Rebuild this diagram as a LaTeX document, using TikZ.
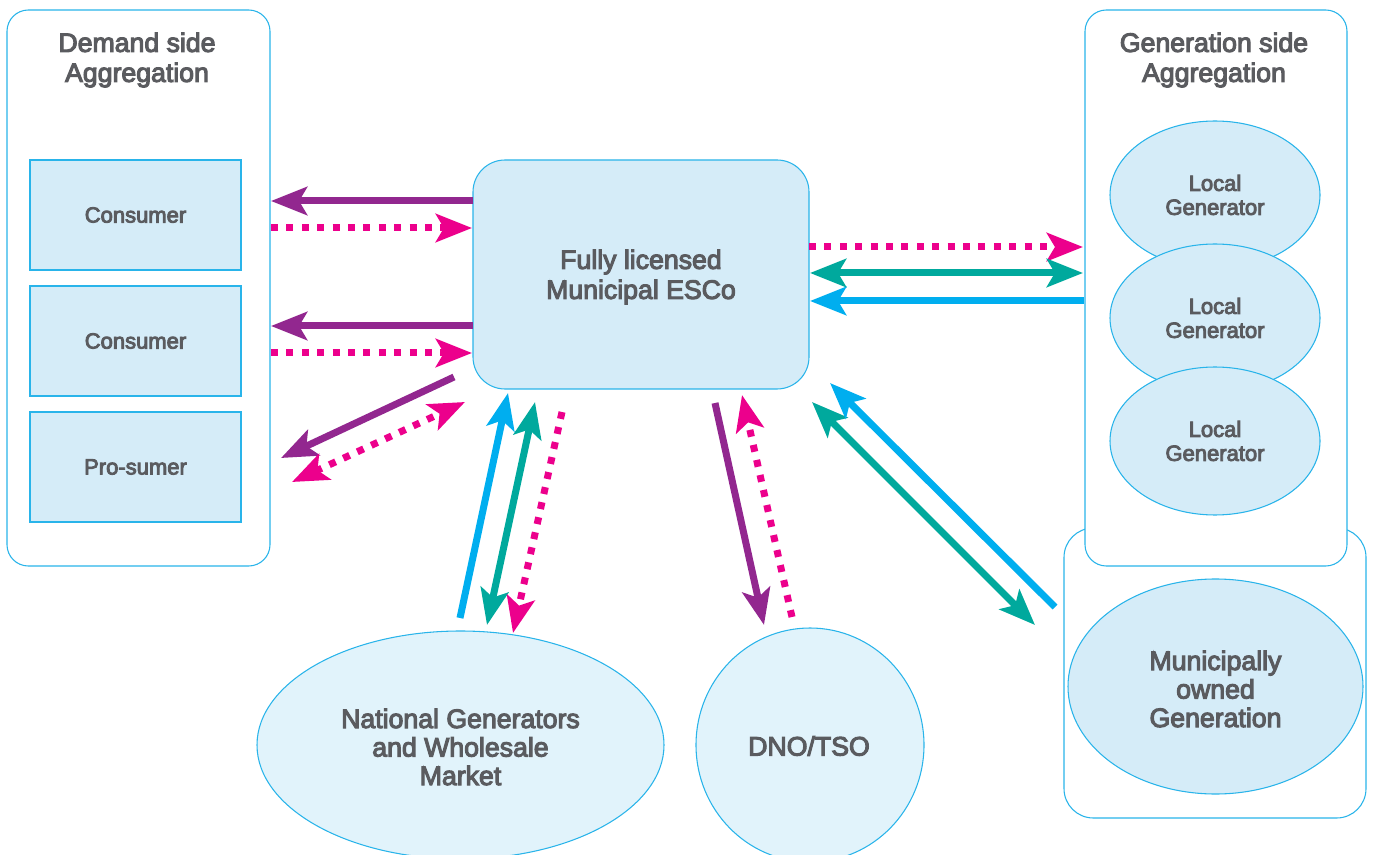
\documentclass[tikz,border=0pt]{standalone}
\usepackage{fontspec}
\setmainfont{Liberation Sans}[FakeBold=4]
\usetikzlibrary{arrows.meta,shapes.geometric}
\definecolor{cyanline}{HTML}{29B4EA}
\definecolor{boxfill}{HTML}{D5ECF8}
\definecolor{ngfill}{HTML}{E1F3FB}
\definecolor{txt}{HTML}{5A5B5F}
\definecolor{purp}{HTML}{92278F}
\definecolor{pinkc}{HTML}{EC008C}
\definecolor{bluc}{HTML}{00AEEF}
\definecolor{tealc}{HTML}{00A99D}
\begin{document}
\begin{tikzpicture}[x=0.75pt,y=-0.75pt,
  panel/.style={draw=cyanline,line width=0.8pt,fill=white,inner sep=0,rounded corners=16pt},
  cbox/.style={draw=cyanline,line width=0.8pt,fill=boxfill,inner sep=0,minimum width=158.25pt,minimum height=82.5pt,font=\fontsize{16.5}{18}\selectfont,text=txt},
  gen/.style={ellipse,draw=cyanline,line width=0.8pt,fill=boxfill,inner sep=0,minimum width=157.5pt,minimum height=111pt,font=\fontsize{16.5}{18}\selectfont,text=txt,align=center},
  big/.style={font=\fontsize{20}{22.5}\selectfont,text=txt,align=center},
  bigtxt/.style={font=\fontsize{20}{21.4}\selectfont,text=txt,align=center},
  bigell/.style={ellipse,draw=cyanline,line width=0.8pt,inner sep=0},
  flow/.style={line width=5.25pt},
  dots/.style={line width=5.25pt,draw=pinkc,dash pattern=on 5.25pt off 6.3pt},
  hd/.tip={Stealth[length=27pt,width=21pt,inset=6pt]},
  one/.style={-hd},
  two/.style={hd-hd}
]
\useasboundingbox (0,0) rectangle (1375,855);
\clip (0,0) rectangle (1375,855);

% panels
\node[panel,minimum width=197.25pt,minimum height=417pt] (demand) at (138.5,288) {};
\node[big] (demandT) at (137,60) {Demand side\\Aggregation};
\node[panel,rounded corners=22pt,minimum width=226.5pt,minimum height=217.5pt] (munibox) at (1215,673) {};
\node[panel,minimum width=196.5pt,minimum height=417pt] (genside) at (1216,288) {};
\node[big] (gensideT) at (1214,60) {Generation side\\Aggregation};

% consumers
\node[cbox] (c1) at (135.5,215) {Consumer};
\node[cbox] (c2) at (135.5,341) {Consumer};
\node[cbox] (c3) at (135.5,467) {Pro-sumer};

% local generators
\node[gen] (g1) at (1215,195) {Local\\Generator};
\node[gen] (g2) at (1215,318) {Local\\Generator};
\node[gen] (g3) at (1215,441) {Local\\Generator};

% municipal generation
\node[bigell,fill=boxfill,minimum width=221.25pt,minimum height=161.25pt] (muni) at (1215.5,686.5) {};
\node[bigtxt] (muniT) at (1215.5,689) {Municipally\\owned\\Generation};

% ESCo
\node[draw=cyanline,line width=0.8pt,fill=boxfill,rounded corners=24pt,inner sep=0,minimum width=252pt,minimum height=171.75pt] (esco) at (641,274.5) {};
\node[big] (escoT) at (641,277) {Fully licensed\\Municipal ESCo};

% national and DNO
\node[bigell,fill=ngfill,minimum width=305.25pt,minimum height=171pt] (ng) at (460.5,745) {};
\node[bigtxt] (ngT) at (460.5,747) {National Generators\\and Wholesale\\Market};
\node[bigell,fill=ngfill,minimum width=171pt,minimum height=175.5pt] (dno) at (810,745) {};
\node[bigtxt] (dnoT) at (809,746) {DNO/TSO};

% connector end points
\coordinate (a1s) at (473,201); \coordinate (a1e) at (271,201);
\coordinate (b1s) at (271,228); \coordinate (b1e) at (472,228);
\coordinate (a2s) at (473,326); \coordinate (a2e) at (271,326);
\coordinate (b2s) at (271,353); \coordinate (b2e) at (472,353);
\coordinate (a3s) at (454,377); \coordinate (a3e) at (281,458);
\coordinate (b3s) at (292,482); \coordinate (b3e) at (465,402);

\coordinate (n1s) at (460,618); \coordinate (n1e) at (508,393);
\coordinate (n2s) at (535,402); \coordinate (n2e) at (487,625);
\coordinate (n3s) at (562,412); \coordinate (n3e) at (513,633);

\coordinate (d1s) at (715,403); \coordinate (d1e) at (764,625);
\coordinate (d2s) at (792,617); \coordinate (d2e) at (742,395);

\coordinate (r1s) at (809,247); \coordinate (r1e) at (1083,247);
\coordinate (r2s) at (810,273); \coordinate (r2e) at (1083,273);
\coordinate (r3s) at (1084,301); \coordinate (r3e) at (810,301);

\coordinate (m1s) at (812,402); \coordinate (m1e) at (1035,625);
\coordinate (m2s) at (1055,607); \coordinate (m2e) at (830,383);

% demand side flows
\draw[flow,purp,one] (a1s) -- (a1e);
\draw[dots,one,pinkc] (b1s) -- (b1e);
\draw[flow,purp,one] (a2s) -- (a2e);
\draw[dots,one,pinkc] (b2s) -- (b2e);
\draw[flow,purp,one] (a3s) -- (a3e);
\draw[dots,two,pinkc] (b3s) -- (b3e);

% national flows
\draw[flow,bluc,one] (n1s) -- (n1e);
\draw[flow,tealc,two] (n2s) -- (n2e);
\draw[dots,one,pinkc] (n3s) -- (n3e);

% DNO flows
\draw[flow,purp,one] (d1s) -- (d1e);
\draw[dots,one,pinkc] (d2s) -- (d2e);

% generation side flows
\draw[dots,one,pinkc] (r1s) -- (r1e);
\draw[flow,tealc,two] (r2s) -- (r2e);
\draw[flow,bluc,one] (r3s) -- (r3e);

% municipal flows
\draw[flow,tealc,two] (m1s) -- (m1e);
\draw[flow,bluc,one] (m2s) -- (m2e);
\end{tikzpicture}
\end{document}
